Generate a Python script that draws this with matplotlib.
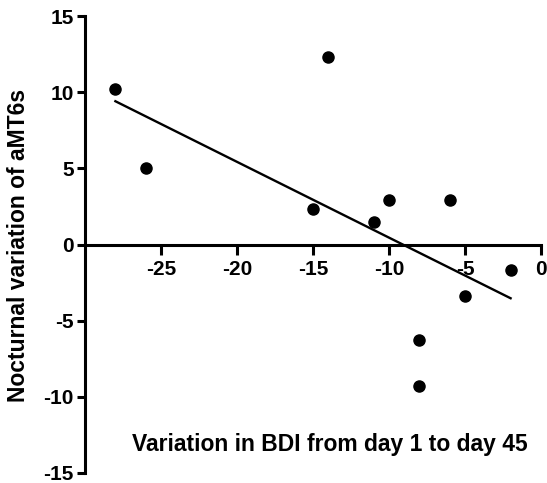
import matplotlib
matplotlib.use("Agg")
import matplotlib.pyplot as plt
import numpy as np

# change in BDI (day 1 -> day 45) vs nocturnal variation of aMT6s
bdi_change = [-28, -26, -15, -14, -11, -10, -8, -8, -6, -5, -2]
amt6s_change = [10.2, 5.0, 2.3, 12.3, 1.5, 2.9, -6.3, -9.3, 2.9, -3.4, -1.7]

x_ticks = [-25, -20, -15, -10, -5, 0]
y_ticks = [-15, -10, -5, 0, 5, 10, 15]

plt.rcParams['font.family'] = ['Liberation Sans', 'DejaVu Sans']
plt.rcParams['font.weight'] = 'bold'
plt.rcParams['axes.unicode_minus'] = False

fig = plt.figure(figsize=(5.47, 4.83), dpi=100)
ax = fig.add_axes([85 / 547, 1 - 473 / 483, 456 / 547, 457 / 483])

ax.plot(bdi_change, amt6s_change, 'o', color='black', ms=8, zorder=3)

# linear regression line over the data range
slope, icpt = np.polyfit(bdi_change, amt6s_change, 1)
xf = np.array([min(bdi_change), max(bdi_change)])
ax.plot(xf, slope * xf + icpt, color='black', lw=1.7)

ax.set_xlim(-30, 0)
ax.set_ylim(-15, 15)
ax.set_xticks(x_ticks)
ax.set_yticks(y_ticks)

ax.spines['top'].set_visible(False)
ax.spines['right'].set_visible(False)
ax.spines['bottom'].set_position(('data', 0))
ax.spines['bottom'].set_bounds(-30, 0)
for s in ('left', 'bottom'):
    ax.spines[s].set_linewidth(2.2)

ax.tick_params(axis='x', length=7, width=2.2, labelsize=15, pad=4)
ax.tick_params(axis='y', length=6, width=2.2, labelsize=15, pad=2)
for lab in ax.get_xticklabels() + ax.get_yticklabels():
    lab.set_fontweight('bold')

ax.text(0.537, 0.048, 'Variation in BDI from day 1 to day 45',
        transform=ax.transAxes, ha='center', va='baseline',
        fontsize=16.5, fontweight='bold')
fig.text(30 / 547, 1 - 245 / 483, 'Nocturnal variation of aMT6s',
         rotation=90, ha='right', va='center', fontsize=16.5, fontweight='bold')

fig.savefig('out.png', dpi=100)
